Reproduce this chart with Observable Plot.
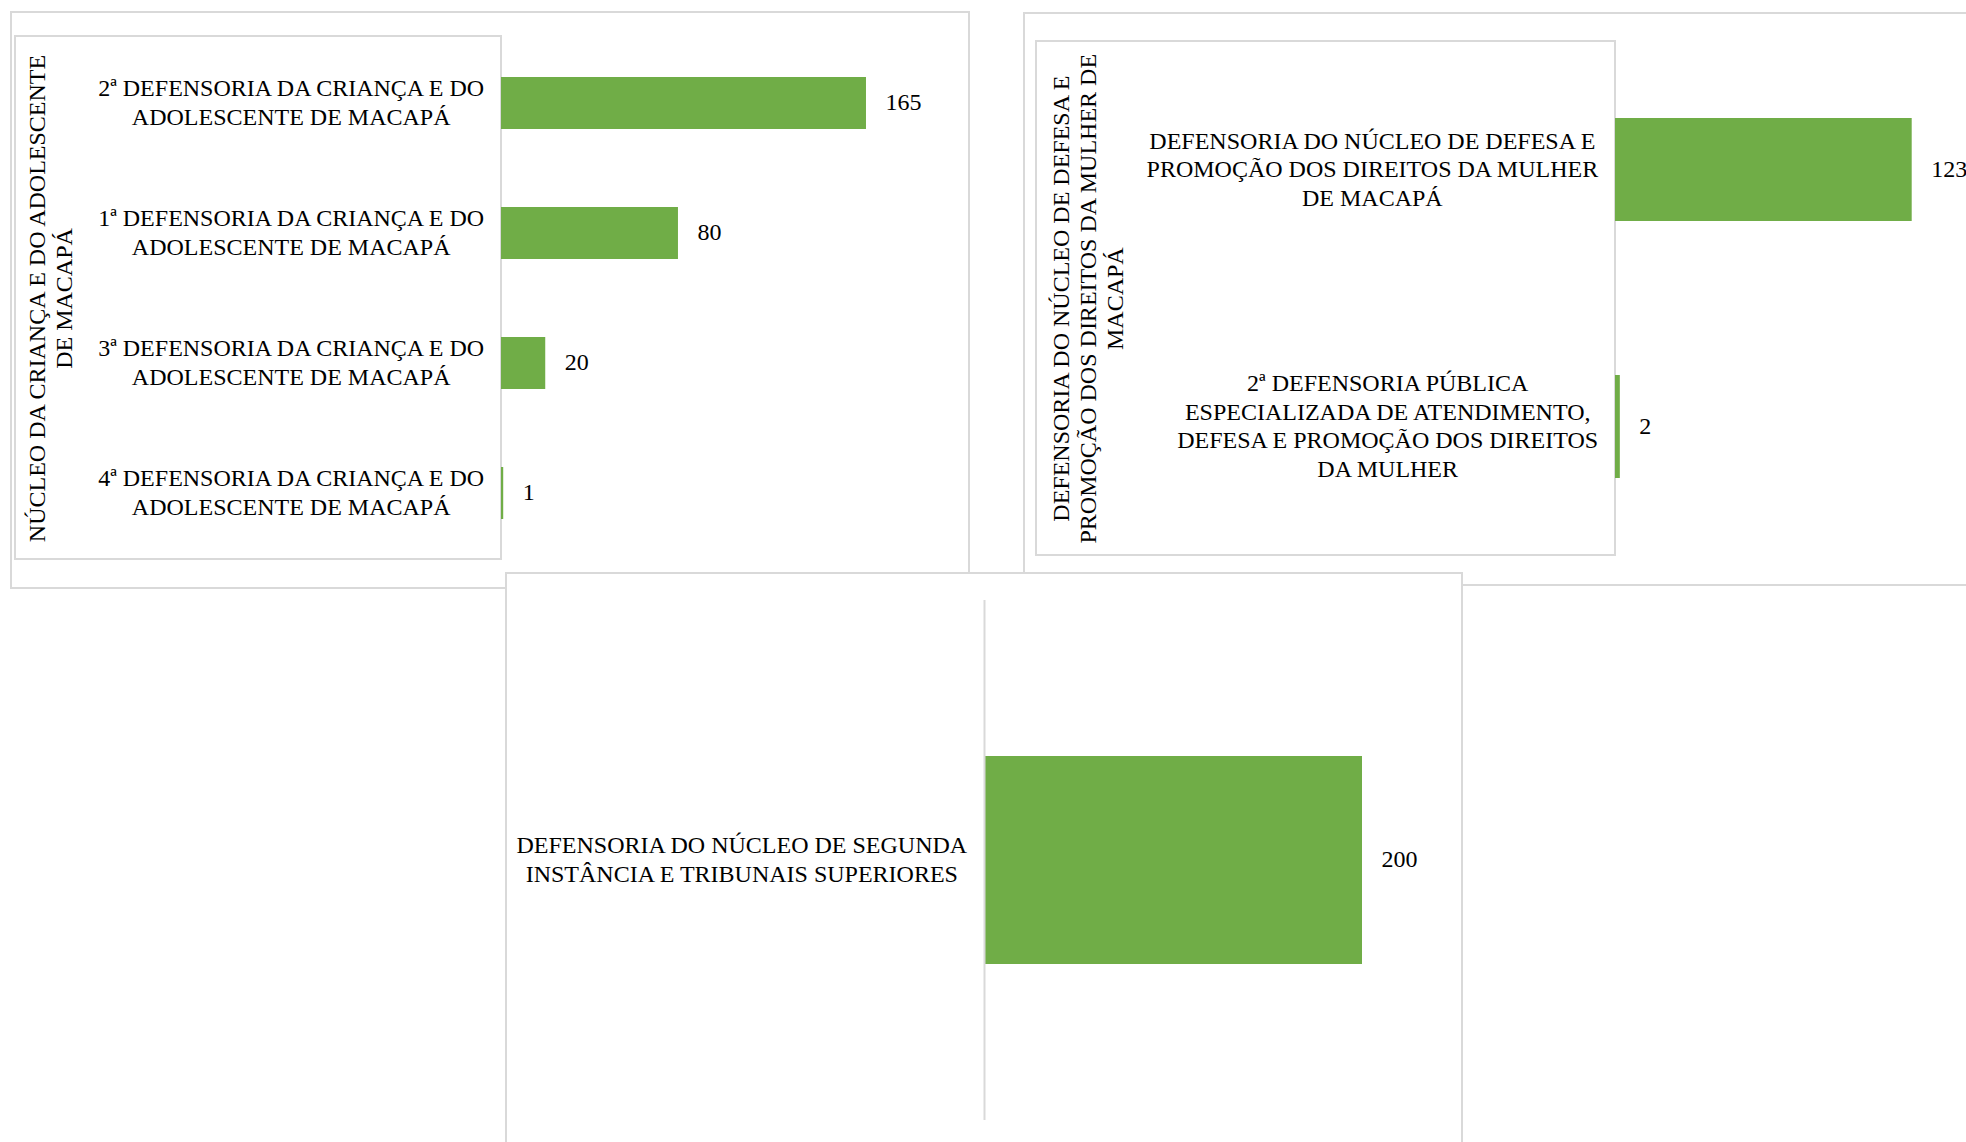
<!DOCTYPE html>
<html><head><meta charset="utf-8">
<script src="https://cdn.jsdelivr.net/npm/d3@7"></script>
<script src="https://cdn.jsdelivr.net/npm/@observablehq/plot@0.6"></script>
<style>
html,body{margin:0;padding:0;background:#fff;}
body{width:1966px;height:1142px;overflow:hidden;position:relative;font-family:"Liberation Serif","Times New Roman",serif;}
.box{position:absolute;box-sizing:border-box;border:2px solid #d9d9d9;background:#fff;}
.plot{position:absolute;}
</style></head><body>
<script>
const GREEN = "#70AD47";

// Panel 1
const p1Title = "NÚCLEO DA CRIANÇA E DO ADOLESCENTE\nDE MACAPÁ";
const p1Categories = [
  "2ª DEFENSORIA DA CRIANÇA E DO ADOLESCENTE DE MACAPÁ",
  "1ª DEFENSORIA DA CRIANÇA E DO ADOLESCENTE DE MACAPÁ",
  "3ª DEFENSORIA DA CRIANÇA E DO ADOLESCENTE DE MACAPÁ",
  "4ª DEFENSORIA DA CRIANÇA E DO ADOLESCENTE DE MACAPÁ"
];
const p1Labels = [
  "2ª DEFENSORIA DA CRIANÇA E DO\nADOLESCENTE DE MACAPÁ",
  "1ª DEFENSORIA DA CRIANÇA E DO\nADOLESCENTE DE MACAPÁ",
  "3ª DEFENSORIA DA CRIANÇA E DO\nADOLESCENTE DE MACAPÁ",
  "4ª DEFENSORIA DA CRIANÇA E DO\nADOLESCENTE DE MACAPÁ"
];
const p1Values = [165, 80, 20, 1];

// Panel 2
const p2Title = "DEFENSORIA DO NÚCLEO DE DEFESA E\nPROMOÇÃO DOS DIREITOS DA MULHER DE\nMACAPÁ";
const p2Categories = [
  "DEFENSORIA DO NÚCLEO DE DEFESA E PROMOÇÃO DOS DIREITOS DA MULHER DE MACAPÁ",
  "2ª DEFENSORIA PÚBLICA ESPECIALIZADA DE ATENDIMENTO, DEFESA E PROMOÇÃO DOS DIREITOS DA MULHER"
];
const p2Labels = [
  "DEFENSORIA DO NÚCLEO DE DEFESA E\nPROMOÇÃO DOS DIREITOS DA MULHER\nDE MACAPÁ",
  "2ª DEFENSORIA PÚBLICA\nESPECIALIZADA DE ATENDIMENTO,\nDEFESA E PROMOÇÃO DOS DIREITOS\nDA MULHER"
];
const p2Values = [123, 2];

// Panel 3
const p3Categories = ["DEFENSORIA DO NÚCLEO DE SEGUNDA INSTÂNCIA E TRIBUNAIS SUPERIORES"];
const p3Labels = ["DEFENSORIA DO NÚCLEO DE SEGUNDA\nINSTÂNCIA E TRIBUNAIS SUPERIORES"];
const p3Values = [200];

const FONT = "Liberation Serif, Times New Roman, serif";
const FS = 24;

function addBox(l, t, w, h) {
  const d = document.createElement("div");
  d.className = "box";
  Object.assign(d.style, {left: l + "px", top: t + "px", width: w + "px", height: h + "px"});
  document.body.appendChild(d);
}

function centerLabels(svg) {
  svg.querySelectorAll('g[aria-label="y-axis tick label"] text').forEach(t => {
    const w = t.getBBox().width;
    t.setAttribute("text-anchor", "middle");
    t.setAttribute("transform", (t.getAttribute("transform") || "") + ` translate(${-w / 2},0)`);
  });
}

function panel({left, top, width, height, mLeft, mRight, mTop, mBottom, xMax, cats, labels, values, title, titleDx, axisLine}) {
  const data = cats.map((c, i) => ({cat: c, value: values[i], label: labels[i]}));
  const labelOf = new Map(data.map(d => [d.cat, d.label]));
  const marks = [
    Plot.barX(data, {x: "value", y: "cat", fill: GREEN}),
    Plot.text(data, {x: "value", y: "cat", text: d => String(d.value), dx: 19, dy: -1, textAnchor: "start", fontSize: FS, fill: "#000"}),
    Plot.axisY({tickSize: 0, tickPadding: 17, dy: -2, fontSize: FS, lineHeight: 1.19, tickFormat: c => labelOf.get(c), label: null, fill: "#000"})
  ];
  if (axisLine) marks.push(Plot.ruleX([0], {stroke: "#d9d9d9", strokeWidth: 2}));
  if (title) marks.push(Plot.text([title], {frameAnchor: "left", dx: titleDx, rotate: -90, textAnchor: "middle", lineAnchor: "middle", fontSize: FS, lineHeight: 1.12, fill: "#000"}));
  const svg = Plot.plot({
    width, height,
    marginLeft: mLeft, marginRight: mRight, marginTop: mTop, marginBottom: mBottom,
    style: {fontFamily: FONT, fontSize: FS + "px", color: "#000", background: "transparent", overflow: "visible"},
    x: {domain: [0, xMax], axis: null},
    y: {domain: cats, paddingInner: 0.6, paddingOuter: 0.3, axis: null},
    marks
  });
  svg.classList.add("plot");
  svg.style.left = left + "px";
  svg.style.top = top + "px";
  svg.style.position = "absolute";
  document.body.appendChild(svg);
  centerLabels(svg);
}

// Panel 1
addBox(10, 11, 960, 578);
addBox(14, 35, 488, 525);
panel({left: 10, top: 11, width: 959, height: 577, mLeft: 491, mRight: 25.6, mTop: 25.7, mBottom: 28.7,
  xMax: 200, cats: p1Categories, labels: p1Labels, values: p1Values, title: p1Title, titleDx: -452});

// Panel 2
addBox(1023, 12, 1000, 574);
addBox(1035, 40, 581, 516);
panel({left: 1023, top: 12, width: 943, height: 574, mLeft: 592, mRight: 13.3, mTop: 28.6, mBottom: 30.2,
  xMax: 140, cats: p2Categories, labels: p2Labels, values: p2Values, title: p2Title, titleDx: -528});

// Panel 3
addBox(505, 572, 958, 600);
panel({left: 505, top: 572, width: 957, height: 570, mLeft: 479, mRight: 5.5, mTop: 28, mBottom: 22,
  xMax: 250, cats: p3Categories, labels: p3Labels, values: p3Values, axisLine: true});
</script>
</body></html>
